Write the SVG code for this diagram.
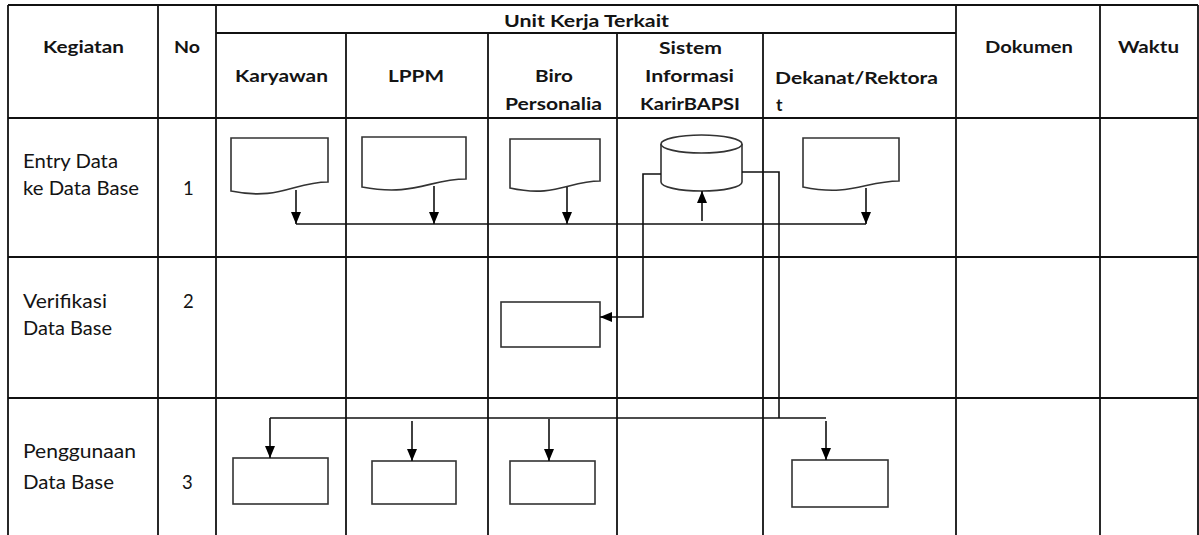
<svg xmlns="http://www.w3.org/2000/svg" width="1199" height="535" viewBox="0 0 1199 535">
<style>
.grid{stroke:#111;stroke-width:1.8;fill:none}
.shape{stroke:#333;stroke-width:1.6;fill:#fff}
.conn{stroke:#111;stroke-width:1.6;fill:none}
.h{font-family:Lato,"Liberation Sans",sans-serif;font-weight:bold;font-size:17.5px;fill:#141414}
.r{font-family:Lato,"Liberation Sans",sans-serif;font-size:18.5px;fill:#141414}
</style>
<defs>
<marker id="ah" markerUnits="userSpaceOnUse" markerWidth="12" markerHeight="10" refX="12" refY="5" orient="auto">
<path d="M0,0 L12,5 L0,10 z" fill="#000"/>
</marker>
</defs>
<rect width="1199" height="535" fill="#fff"/>
<g id="table" class="grid">
<line x1="8" y1="5" x2="1198" y2="5"/>
<line x1="216" y1="33" x2="956" y2="33"/>
<line x1="8" y1="118" x2="1198" y2="118"/>
<line x1="8" y1="257" x2="1198" y2="257"/>
<line x1="8" y1="398" x2="1198" y2="398"/>
<line x1="8" y1="5" x2="8" y2="535"/>
<line x1="158" y1="5" x2="158" y2="535"/>
<line x1="216" y1="5" x2="216" y2="535"/>
<line x1="956" y1="5" x2="956" y2="535"/>
<line x1="1100" y1="5" x2="1100" y2="535"/>
<line x1="1198" y1="5" x2="1198" y2="535"/>
<line x1="346" y1="33" x2="346" y2="535"/>
<line x1="488" y1="33" x2="488" y2="535"/>
<line x1="617" y1="33" x2="617" y2="535"/>
<line x1="763" y1="33" x2="763" y2="535"/>
</g>
<g id="headers">
<text class="h" x="43" y="53" textLength="81" lengthAdjust="spacingAndGlyphs">Kegiatan</text>
<text class="h" x="174" y="53" textLength="26" lengthAdjust="spacingAndGlyphs">No</text>
<text class="h" x="504" y="27" textLength="165" lengthAdjust="spacingAndGlyphs">Unit Kerja Terkait</text>
<text class="h" x="235" y="82" textLength="93" lengthAdjust="spacingAndGlyphs">Karyawan</text>
<text class="h" x="388" y="82" textLength="56" lengthAdjust="spacingAndGlyphs">LPPM</text>
<text class="h" x="535" y="82" textLength="38" lengthAdjust="spacingAndGlyphs">Biro</text>
<text class="h" x="505" y="110" textLength="97" lengthAdjust="spacingAndGlyphs">Personalia</text>
<text class="h" x="659" y="54" textLength="63" lengthAdjust="spacingAndGlyphs">Sistem</text>
<text class="h" x="645" y="82" textLength="89" lengthAdjust="spacingAndGlyphs">Informasi</text>
<text class="h" x="640" y="110" textLength="100" lengthAdjust="spacingAndGlyphs">KarirBAPSI</text>
<text class="h" x="775" y="84" textLength="163" lengthAdjust="spacingAndGlyphs">Dekanat/Rektora</text>
<text class="h" x="776" y="111">t</text>
<text class="h" x="985" y="53" textLength="88" lengthAdjust="spacingAndGlyphs">Dokumen</text>
<text class="h" x="1118" y="53" textLength="61" lengthAdjust="spacingAndGlyphs">Waktu</text>
</g>
<g id="row-labels">
<text class="r" x="23" y="168" textLength="95" lengthAdjust="spacingAndGlyphs">Entry Data</text>
<text class="r" x="23" y="195" textLength="116" lengthAdjust="spacingAndGlyphs">ke Data Base</text>
<text class="r" x="183" y="195">1</text>
<text class="r" x="23" y="308" textLength="84" lengthAdjust="spacingAndGlyphs">Verifikasi</text>
<text class="r" x="23" y="335" textLength="89" lengthAdjust="spacingAndGlyphs">Data Base</text>
<text class="r" x="183" y="308">2</text>
<text class="r" x="23" y="458" textLength="113" lengthAdjust="spacingAndGlyphs">Penggunaan</text>
<text class="r" x="23" y="489" textLength="91" lengthAdjust="spacingAndGlyphs">Data Base</text>
<text class="r" x="182" y="489">3</text>
</g>
<g id="doc-karyawan"><path class="shape" d="M231,191 V138 H328 V182 C294,182 279.5,201 231,191 Z"/></g>
<g id="doc-lppm"><path class="shape" d="M362,187 V137 H466 V179 C429.6,179 414,197 362,187 Z"/></g>
<g id="doc-biro"><path class="shape" d="M510,188 V139 H600 V181 C568.5,181 555,198 510,188 Z"/></g>
<g id="db-sistem">
<path class="shape" d="M661,144 V182 A40.5,9 0 0 0 742,182 V144"/>
<ellipse class="shape" cx="701.5" cy="144" rx="40.5" ry="9"/>
</g>
<g id="doc-dekanat"><path class="shape" d="M803,187 V138 H899 V181 C865.4,181 851,197 803,187 Z"/></g>
<g id="proc-biro-verif"><rect class="shape" x="501" y="302" width="99" height="45"/></g>
<g id="proc-karyawan-use"><rect class="shape" x="233" y="458" width="95" height="46"/></g>
<g id="proc-lppm-use"><rect class="shape" x="372" y="461" width="84" height="43"/></g>
<g id="proc-biro-use"><rect class="shape" x="510" y="461" width="85" height="43"/></g>
<g id="proc-dekanat-use"><rect class="shape" x="792" y="460" width="96" height="47"/></g>
<g id="connectors" class="conn">
<line x1="296" y1="190" x2="296" y2="224" marker-end="url(#ah)"/>
<line x1="434" y1="186" x2="434" y2="224" marker-end="url(#ah)"/>
<line x1="567" y1="187" x2="567" y2="224" marker-end="url(#ah)"/>
<line x1="866" y1="188" x2="866" y2="224" marker-end="url(#ah)"/>
<line x1="296" y1="224" x2="866" y2="224"/>
<line x1="702" y1="221" x2="702" y2="191" marker-end="url(#ah)"/>
<polyline points="661,174 643,174 643,317 600,317" marker-end="url(#ah)"/>
<polyline points="742,172 779,172 779,418"/>
<line x1="270" y1="418" x2="826" y2="418"/>
<line x1="270" y1="418" x2="270" y2="458" marker-end="url(#ah)"/>
<line x1="412" y1="421" x2="412" y2="461" marker-end="url(#ah)"/>
<line x1="549" y1="419" x2="549" y2="461" marker-end="url(#ah)"/>
<line x1="826" y1="421" x2="826" y2="460" marker-end="url(#ah)"/>
</g>
</svg>
